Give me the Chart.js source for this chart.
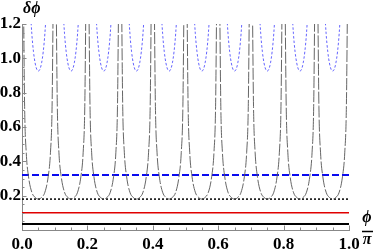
<!DOCTYPE html>
<html>
<head>
<meta charset="utf-8">
<script src="https://cdn.jsdelivr.net/npm/chart.js@4.4.0/dist/chart.umd.min.js"></script>
<style>
  html, body { margin: 0; padding: 0; background: #fff; }
</style>
</head>
<body>
<canvas id="plot" width="376" height="252"></canvas>
<script>
// ---------- Data ----------
// poles of the periodic curves, in phi/pi
const poles = [0, 0.1, 0.2, 0.3, 0.4, 0.5, 0.6, 0.7, 0.8, 0.9];

// one period of the black long-dashed curve: offset from pole -> delta phi
const blackOffsets = [0, 0.004, 0.008, 0.013, 0.02, 0.03, 0.04, 0.05, 0.06, 0.07, 0.08, 0.087, 0.092, 0.096, 0.1];
const blackValues  = [2.0, 1.44, 0.72, 0.45, 0.31, 0.22, 0.19, 0.18, 0.19, 0.22, 0.31, 0.45, 0.72, 1.44, 2.0];

// one period of the blue dotted curve (goes off the top near the poles)
const blueOffsets = [0.02, 0.025, 0.03, 0.035, 0.04, 0.045, 0.05, 0.055, 0.06, 0.065, 0.07, 0.075, 0.08];
const blueValues  = [1.575, 1.31, 1.145, 1.04, 0.974, 0.937, 0.926, 0.937, 0.974, 1.04, 1.145, 1.31, 1.575];

// flat levels
const levelBlueDashed = 0.32;
const levelBlackDotted = 0.18;
const levelRed = 0.1;
const levelBlack = 0.035;

const xRange = [0, 1];
const yRange = [0, 1.2];

// ---------- Build point lists ----------
function periodic(offsets, values, gap) {
  const pts = [];
  poles.forEach((p, k) => {
    offsets.forEach((o, i) => {
      if (!gap && k > 0 && i === 0) return; // shared pole point
      pts.push({ x: +(p + o).toFixed(4), y: values[i] });
    });
    if (gap) pts.push({ x: +(p + 0.1).toFixed(4), y: null });
  });
  return pts;
}
function flat(v) {
  return [{ x: xRange[0], y: v }, { x: xRange[1], y: v }];
}

// ---------- Ticks + axis titles ----------
const axisExtras = {
  id: "axisExtras",
  afterDraw(chart) {
    const ctx = chart.ctx;
    const xs = chart.scales.x;
    const ys = chart.scales.y;
    const ox = xs.getPixelForValue(0);
    const oy = ys.getPixelForValue(0);
    ctx.save();
    ctx.strokeStyle = "#888";
    ctx.lineWidth = 1;
    ctx.beginPath();
    for (let i = 1; i <= 20; i++) {
      const px = Math.round(xs.getPixelForValue(i * 0.05)) + 0.5;
      const len = i % 4 === 0 ? 4.5 : 2.5;
      ctx.moveTo(px, oy);
      ctx.lineTo(px, oy - len);
    }
    for (let i = 1; i <= 24; i++) {
      const py = Math.round(ys.getPixelForValue(i * 0.05)) + 0.5;
      const len = i % 4 === 0 ? 4.5 : 2.5;
      ctx.moveTo(ox, py);
      ctx.lineTo(ox + len, py);
    }
    ctx.stroke();

    ctx.fillStyle = "#000";
    ctx.font = "italic bold 16px 'Liberation Serif', 'DejaVu Serif', serif";
    ctx.textAlign = "left";
    ctx.textBaseline = "alphabetic";
    ctx.fillText("δϕ", 23, 13);

    ctx.textAlign = "center";
    ctx.textBaseline = "middle";
    ctx.fillText("ϕ", 367, 218);
    ctx.fillText("π", 367, 240);
    ctx.lineWidth = 1.5;
    ctx.strokeStyle = "#000";
    ctx.beginPath();
    ctx.moveTo(362, 231.5);
    ctx.lineTo(373, 231.5);
    ctx.stroke();
    ctx.restore();
  },
};

// ---------- Chart ----------
const tickFont = { family: "'Liberation Serif', serif", size: 17, weight: "bold" };

new Chart(document.getElementById("plot"), {
  type: "line",
  data: {
    datasets: [
      {
        data: periodic(blueOffsets, blueValues, true),
        borderColor: "rgba(60,60,255,0.8)",
        borderWidth: 1,
        borderDash: [2.5, 2],
        cubicInterpolationMode: "monotone",
        spanGaps: false,
      },
      {
        data: periodic(blackOffsets, blackValues, false),
        borderColor: "#555",
        borderWidth: 0.9,
        borderDash: [12, 2],
        cubicInterpolationMode: "monotone",
      },
      {
        data: flat(levelBlueDashed),
        borderColor: "#0a0aee",
        borderWidth: 2,
        borderDash: [7, 3],
      },
      {
        data: flat(levelBlackDotted),
        borderColor: "#000",
        borderWidth: 1.5,
        borderDash: [2, 2],
      },
      {
        data: flat(levelRed),
        borderColor: "#e00000",
        borderWidth: 1.5,
      },
      {
        data: flat(levelBlack),
        borderColor: "#000",
        borderWidth: 2,
      },
    ],
  },
  options: {
    responsive: false,
    animation: false,
    layout: { padding: { top: 24, right: 27, left: 0, bottom: 0 } },
    elements: { point: { radius: 0 } },
    plugins: { legend: { display: false }, tooltip: { enabled: false } },
    datasets: { line: { clip: 0, fill: false } },
    scales: {
      x: {
        type: "linear",
        min: xRange[0],
        max: xRange[1],
        grid: { display: false, drawTicks: false },
        border: { display: true, color: "#888", width: 1 },
        ticks: {
          stepSize: 0.2,
          padding: 4,
          color: "#000",
          font: tickFont,
          maxRotation: 0,
          callback: (v) => v.toFixed(1),
        },
        afterFit: (s) => { s.height = 22; },
      },
      y: {
        type: "linear",
        min: yRange[0],
        max: yRange[1],
        grid: { display: false, drawTicks: false },
        border: { display: true, color: "#888", width: 1 },
        ticks: {
          stepSize: 0.2,
          padding: 1,
          color: "#000",
          font: tickFont,
          callback: (v) => (v === 0 ? "" : v.toFixed(1)),
        },
        afterFit: (s) => { s.width = 22; },
      },
    },
  },
  plugins: [axisExtras],
});
</script>
</body>
</html>
